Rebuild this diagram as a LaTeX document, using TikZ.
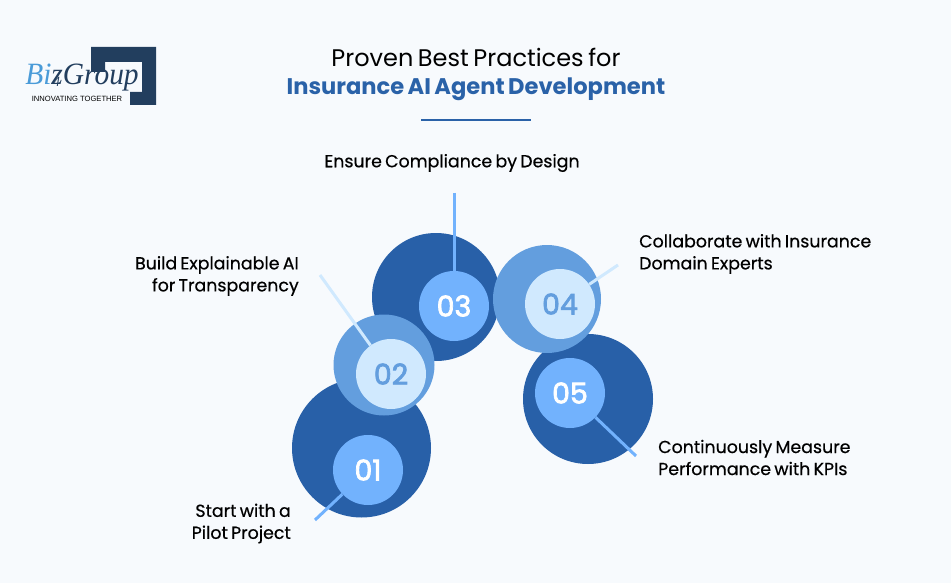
\documentclass[tikz,border=0pt]{standalone}
\usepackage{fontspec}
\setmainfont{Poppins}[WordSpace=0.72]
\newfontfamily\labelfont{Poppins}[WordSpace=0.7,FakeBold=0.5]
\newfontfamily\numfont{Poppins}[FakeBold=2.5]
\newfontfamily\logofont{Liberation Serif}
\newfontfamily\tagfont{Liberation Sans}
\definecolor{pagebg}{HTML}{F7FAFD}
\definecolor{deepblue}{HTML}{2860A8}
\definecolor{midblue}{HTML}{639EDE}
\definecolor{skyblue}{HTML}{72B2FD}
\definecolor{paleblue}{HTML}{D0E9FE}
\definecolor{navy}{HTML}{223E5E}
\definecolor{titleblue}{HTML}{2A62A8}
\definecolor{logoblue}{HTML}{4A9BD8}
\newcommand{\numlabel}[1]{\raisebox{-2pt}{#1}}
\tikzset{
  bigdisc/.style={circle, inner sep=0pt, fill=#1},
  numdisc/.style={circle, inner sep=0pt, minimum size=70pt, font=\numfont\fontsize{28.5}{28}\selectfont, fill=#1},
  leader/.style={line width=3pt, draw=#1},
  steptext/.style={font=\labelfont\fontsize{17.4}{22}\selectfont, text=black, inner sep=0pt}
}
\begin{document}
\begin{tikzpicture}[x=1pt,y=-1pt]
\fill[pagebg] (0,0) rectangle (951,583);
\useasboundingbox (0,0) rectangle (951,583);
% logo
\fill[navy] (91,47) -- (156,47) -- (156,105) -- (130,105) -- (130,92) -- (142,92) -- (142,62) -- (105,62) -- (105,72) -- (91,72) -- cycle;
\node[inner sep=0pt, xscale=0.95, font=\logofont\itshape\fontsize{31}{31}\selectfont] (logotext) at (82,78) {\textcolor{logoblue}{Bi}\textcolor{navy}{z\llap{\raisebox{-2pt}{\fontsize{14}{14}\selectfont 4}\kern3pt}Group}};
\node[inner sep=0pt, font=\tagfont\fontsize{7.6}{8}\selectfont, text=black] (logotag) at (77,99) {INNOVATING TOGETHER};
% title
\node[inner sep=0pt, font=\fontsize{24}{28}\selectfont] (title1) at (476,57.5) {Proven Best Practices for};
\node[inner sep=0pt, font=\fontsize{22.6}{28}\selectfont\bfseries, text=titleblue] (title2) at (476,89) {Insurance AI Agent Development};
\coordinate (ruleL) at (421,120);
\coordinate (ruleR) at (531,120);
\draw[line width=1.5pt, titleblue] (ruleL) -- (ruleR);
% discs
\node[bigdisc=deepblue, minimum size=139pt] (big1) at (361.5,448) {};
\node[bigdisc=deepblue, minimum size=128pt] (big3) at (436,297) {};
\node[bigdisc=midblue, minimum size=101pt] (big2) at (384,365) {};
\node[bigdisc=deepblue, minimum size=130pt] (big5) at (588,399) {};
\node[bigdisc=midblue, minimum size=108pt] (big4) at (547,299) {};
\node[numdisc=skyblue, text=white] (num1) at (368,470) {\numlabel{01}};
\node[numdisc=paleblue, text=midblue] (num2) at (391,374) {\numlabel{02}};
\node[numdisc=skyblue, text=white] (num3) at (454,306) {\numlabel{03}};
\node[numdisc=paleblue, text=midblue] (num4) at (560,304) {\numlabel{04}};
\node[numdisc=skyblue, text=white] (num5) at (570,393) {\numlabel{05}};
% leaders
\coordinate (tip1) at (315,520);
\coordinate (tip2) at (320,275);
\coordinate (tip3) at (454,193);
\coordinate (tip4) at (618,265);
\coordinate (tip5) at (636,456);
\draw[leader=skyblue] (tip1) -- (num1);
\draw[leader=paleblue] (tip2) -- (num2);
\draw[leader=skyblue] (tip3) -- (num3);
\draw[leader=paleblue] (tip4) -- (num4);
\draw[leader=skyblue] (tip5) -- (num5);
% labels
\node[steptext, align=right, anchor=east] (lab1) at (291,523.5) {Start with a\\Pilot Project};
\node[steptext, align=right, anchor=east] (lab2) at (299,276) {Build Explainable AI\\for Transparency};
\node[steptext] (lab3) at (452,163) {Ensure Compliance by Design};
\node[steptext, align=left, anchor=west] (lab4) at (639,254) {Collaborate with Insurance\\Domain Experts};
\node[steptext, align=left, anchor=west] (lab5) at (658,457.5) {Continuously Measure\\Performance with KPIs};
\end{tikzpicture}
\end{document}
